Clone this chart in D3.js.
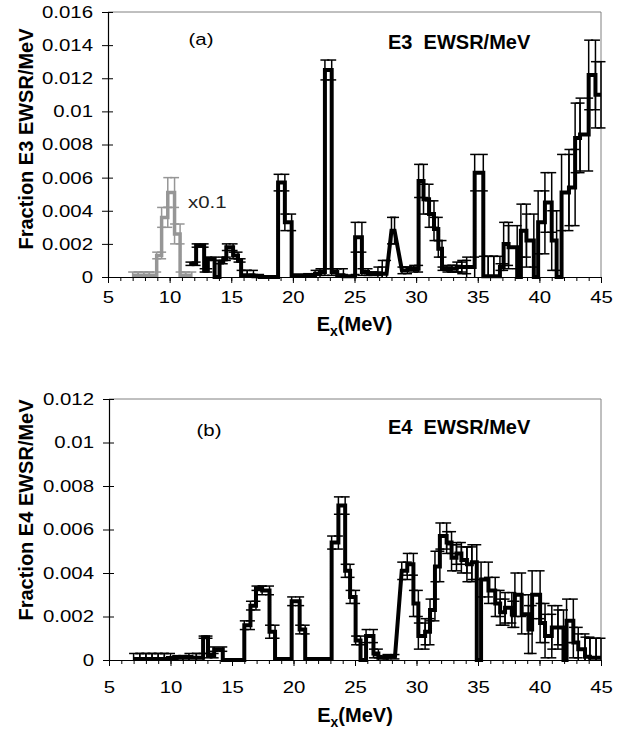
<!DOCTYPE html>
<html>
<head>
<meta charset="utf-8">
<script src="https://cdn.jsdelivr.net/npm/d3@7/dist/d3.min.js"></script>
<style>
  body { margin: 0; background: #fff; }
  svg { display: block; font-family: 'Liberation Sans', Arial, sans-serif; }
</style>
</head>
<body>
<div id="chart"></div>
<script>
// ---- data ----
const xTicks = [5, 10, 15, 20, 25, 30, 35, 40, 45];

// panel (a), E3, grey part plotted x0.1
const e3LowLo = [7.0, 7.45, 7.9, 8.35, 8.95, 9.35, 9.85, 10.4, 10.85, 11.3];
const e3LowHi = [7.45, 7.9, 8.35, 8.95, 9.35, 9.85, 10.4, 10.85, 11.3, 11.8];
const e3LowVal = [0.0001, 0.0001, 0.0001, 0.0001, 0.0013, 0.0036, 0.0051, 0.0026, 0.0001, 0.0001];
const e3LowErr = [0.0002, 0.0002, 0.0002, 0.0002, 0.0002, 0.0006, 0.0009, 0.0006, 0.0002, 0.0002];

// panel (a), E3, main part
const e3Lo = [11.65, 12.15, 12.8, 13.1, 13.65, 14.05, 14.35, 14.6, 15.15, 15.55, 15.8, 16.3, 16.8, 17.3,
  18.8, 19.35, 19.9, 21.2, 21.8, 22.2, 22.6, 23.15, 23.6, 24.1, 25.05, 25.6, 26.1, 26.5, 26.9, 27.25,
  28.0, 28.85, 29.3, 29.8, 30.2, 30.6, 31.05, 31.45, 31.8, 32.1, 32.5, 32.9, 33.3, 33.7, 34.1,
  34.75, 35.45, 35.85, 36.3, 36.8, 37.1, 37.5, 38.2, 38.5, 38.95, 39.55, 39.9, 40.45, 41.0, 41.4,
  41.8, 42.4, 42.9, 43.3, 44.0, 44.55];
const e3Hi = [12.15, 12.8, 13.1, 13.65, 14.05, 14.35, 14.6, 15.15, 15.55, 15.8, 16.3, 16.8, 17.3, 18.8,
  19.35, 19.9, 21.2, 21.8, 22.2, 22.6, 23.15, 23.6, 24.1, 25.05, 25.6, 26.1, 26.5, 26.9, 27.25, 27.6,
  28.25, 29.3, 29.8, 30.2, 30.6, 31.05, 31.45, 31.8, 32.1, 32.5, 32.9, 33.3, 33.7, 34.1, 34.75,
  35.45, 35.85, 36.3, 36.8, 37.1, 37.5, 38.2, 38.5, 38.95, 39.55, 39.9, 40.45, 41.0, 41.4, 41.8,
  42.4, 42.9, 43.3, 44.0, 44.55, 45.0];
const e3Val = [0.0008, 0.0019, 0.0004, 0.0011, 0, 0.0009, 0.0011, 0.0018, 0.0013, 0.001, 0.0001, 0.0001, 0.00005, 0,
  0.0057, 0.0033, 0.0001, 0.0001, 0.0002, 0.0003, 0.0125, 0.0003, 0.0001, 0.00005, 0.0024, 0.0003, 0.0002, 0.0002, 0.0002, 0.0002,
  0.0028, 0.0004, 0.0005, 0.0005, 0.0058, 0.0047, 0.0038, 0.0029, 0.0017, 0.0005, 0.0005, 0.0005, 0.0006, 0.0006, 0.0006,
  0.0063, 0.00005, 0.00005, 0.00005, 0.0006, 0.002, 0.0018, 0, 0.0028, 0.0022, 0, 0.0033, 0.0045, 0.0022, 0,
  0.0051, 0.0054, 0.0084, 0.0086, 0.0122, 0.011];
const e3Err = [0.0001, 0.0001, 0.0001, 0.0001, 0, 0.0001, 0.0001, 0.0002, 0.0002, 0.0001, 0.0003, 0.0003, 0.0001, 0,
  0.0005, 0.0005, 0, 0.0001, 0.0002, 0.0002, 0.0006, 0.0002, 0.0004, 0.0001, 0.0009, 0.0002, 0.0001, 0.0001, 0.0004, 0.0008,
  0.0008, 0.0002, 0.0001, 0.0002, 0.001, 0.0009, 0.0008, 0.0007, 0.0005, 0.0001, 0.0002, 0.0002, 0.0003, 0.0004, 0.0006,
  0.0011, 0.0012, 0.0012, 0.0012, 0.0002, 0.0013, 0.0013, 0, 0.0016, 0.0016, 0, 0.0019, 0.0018, 0.0018, 0,
  0.0023, 0.0023, 0.0021, 0.0022, 0.0021, 0.002];

// panel (b), E4
const e4Lo = [7.0, 7.5, 8.0, 8.5, 9.0, 9.5, 10.0, 10.5, 11.0, 11.5, 12.1, 12.65, 13.05, 13.55, 14.25,
  16.0, 16.5, 16.95, 17.45, 18.05, 18.5, 19.85, 20.5, 20.95, 23.1, 23.65, 24.2, 24.6, 25.05, 25.45,
  25.9, 26.5, 26.9, 27.6, 28.8, 29.25, 29.75, 30.15, 30.7, 31.1, 31.5, 31.9, 32.45, 32.85, 33.25,
  33.65, 34.1, 34.5, 34.9, 35.25, 35.85, 36.4, 36.8, 37.2, 37.75, 38.0, 38.55, 39.1, 39.4, 40.05,
  40.45, 41.0, 41.5, 41.95, 42.2, 42.75, 43.15, 43.7, 44.1, 44.6];
const e4Hi = [7.5, 8.0, 8.5, 9.0, 9.5, 10.0, 10.5, 11.0, 11.5, 12.1, 12.65, 13.05, 13.55, 14.25, 16.0,
  16.5, 16.95, 17.45, 18.05, 18.5, 19.85, 20.5, 20.95, 23.1, 23.65, 24.2, 24.6, 25.05, 25.45, 25.9,
  26.5, 26.9, 27.6, 28.25, 29.25, 29.75, 30.15, 30.7, 31.1, 31.5, 31.9, 32.45, 32.85, 33.25, 33.65,
  34.1, 34.5, 34.9, 35.25, 35.85, 36.4, 36.8, 37.2, 37.75, 38.0, 38.55, 39.1, 39.4, 40.05, 40.45,
  41.0, 41.5, 41.95, 42.2, 42.75, 43.15, 43.7, 44.1, 44.6, 45.0];
const e4Val = [0.00005, 0.00005, 0.00005, 0.00005, 0.00005, 0.00005, 0.00005, 0.0001, 0.0001, 0.0001, 0.0001, 0.00105, 0.0002, 0.0005, 0,
  0.0016, 0.0025, 0.0033, 0.0032, 0.0013, 0.00005, 0.0027, 0.0014, 0.00005, 0.0054, 0.0071, 0.0041, 0.0029, 0.0009, 0,
  0.0011, 0.0003, 0.0001, 0.00015, 0.0041, 0.0044, 0.0026, 0.0011, 0.0013, 0.0023, 0.0043, 0.0057, 0.0054, 0.0047, 0.0049,
  0.0046, 0.0044, 0.0045, 0, 0.0037, 0.0032, 0.0026, 0.0022, 0.0024, 0.0021, 0.003, 0.0021, 0.0014, 0.003, 0.0017,
  0.0011, 0.0015, 0.0015, 0, 0.0018, 0.0008, 0.0005, 0.00015, 0.0001, 0.0001];
const e4Err = [0.00025, 0.00025, 0.00025, 0.00025, 0.00025, 0.00025, 0.0001, 0.0001, 0.0001, 0.0002, 0.0002, 0.00005, 0.0001, 0.0001, 0,
  0.0002, 0.0002, 0.0001, 0.0002, 0.0003, 0, 0.0002, 0.0002, 0, 0.0003, 0.0004, 0.0003, 0.0003, 0.0002, 0,
  0.0003, 0.0002, 0.0001, 0.0001, 0.0004, 0.0005, 0.0006, 0.0006, 0.0006, 0.0005, 0.0007, 0.0006, 0.0005, 0.0006, 0.0005,
  0.0006, 0.0008, 0.0008, 0, 0.0008, 0.0006, 0.0006, 0.0006, 0.0007, 0.0006, 0.001, 0.0009, 0.0011, 0.0011, 0.0009,
  0.001, 0.001, 0.0008, 0, 0.001, 0.0007, 0.0007, 0.0009, 0.0009, 0.0009];

const e3Ticks = [0, 0.002, 0.004, 0.006, 0.008, 0.01, 0.012, 0.014, 0.016];
const e3TickLabels = ['0', '0.002', '0.004', '0.006', '0.008', '0.01', '0.012', '0.014', '0.016'];
const e4Ticks = [0, 0.002, 0.004, 0.006, 0.008, 0.01, 0.012];
const e4TickLabels = ['0', '0.002', '0.004', '0.006', '0.008', '0.01', '0.012'];

// ---- drawing ----
const width = 628;
const height = 741;
const font = "'Liberation Sans', Arial, sans-serif";
const stretch = 'scale(1.2,1)';

const svg = d3.select('#chart')
  .append('svg')
  .attr('width', width)
  .attr('height', height);

const toBins = (lo, hi, val, err) => lo.map((l, i) => ({ lo: l, hi: hi[i], v: val[i], e: err[i] }));

const drawPanel = (p) => {
  const g = svg.append('g');
  const x = d3.scaleLinear().domain([5, 45]).range([p.left, p.right]);
  const y = d3.scaleLinear().domain([0, p.yMax]).range([p.bottom, p.top]);

  // plot area border (top + right)
  g.append('path')
    .attr('d', `M${p.left},${p.top}H${p.right}V${p.bottom}`)
    .attr('fill', 'none')
    .attr('stroke', '#808080')
    .attr('stroke-width', 1);

  // x axis: minor ticks every MeV, then major ticks with labels
  g.append('g')
    .attr('transform', `translate(0, ${p.bottom})`)
    .call(d3.axisBottom(x).tickValues(d3.range(5, 46, 1)).tickSize(4).tickSizeOuter(0).tickFormat(''))
    .call((a) => a.select('.domain').remove())
    .selectAll('line').attr('stroke', '#000');

  const xAxis = g.append('g')
    .attr('transform', `translate(0, ${p.bottom})`)
    .call(d3.axisBottom(x).tickValues(xTicks).tickSize(6).tickSizeOuter(0).tickFormat(d3.format('d')));
  xAxis.select('.domain').attr('stroke', '#000').attr('stroke-width', 1.2);
  xAxis.selectAll('text')
    .attr('font-size', 17)
    .attr('font-family', font)
    .attr('fill', '#000')
    .attr('dy', 0)
    .attr('y', p.xLabelOffset)
    .attr('transform', stretch);

  // y axis, ticks cross the axis line
  const yAxis = g.append('g')
    .attr('transform', `translate(${p.left}, 0)`)
    .call(d3.axisLeft(y).tickValues(p.yTicks).tickSize(6).tickSizeOuter(0)
      .tickFormat((d, i) => p.yTickLabels[i]));
  yAxis.select('.domain').attr('stroke', '#000').attr('stroke-width', 1.2);
  yAxis.selectAll('line').attr('x1', 5).attr('stroke', '#000');
  yAxis.selectAll('text')
    .attr('font-size', 17)
    .attr('font-family', font)
    .attr('fill', '#000')
    .attr('x', -12.5)
    .attr('transform', stretch);

  const line = d3.line().x((d) => x(d[0])).y((d) => y(d[1]));

  p.series.forEach((s) => {
    const bins = toBins(s.lo, s.hi, s.val, s.err);
    const pts = bins.flatMap((b) => [[b.lo, b.v], [b.hi, b.v]]);

    g.append('path')
      .attr('d', line(pts))
      .attr('fill', 'none')
      .attr('stroke', s.color)
      .attr('stroke-width', s.width);

    // error bars on both points of every bin
    const bars = bins.filter((b) => b.e > 0).flatMap((b) => [
      { at: b.lo, v: b.v, e: b.e }, { at: b.hi, v: b.v, e: b.e }]);
    const eg = g.append('g').attr('stroke', s.color).attr('stroke-width', 1.5).attr('fill', 'none');
    const cap = 4.5;
    bars.forEach((b) => {
      const top = y(b.v + b.e);
      const low = Math.max(0, b.v - b.e);
      const bot = y(low);
      const cx = x(b.at);
      eg.append('line').attr('x1', cx).attr('x2', cx).attr('y1', top).attr('y2', bot);
      eg.append('line').attr('x1', cx - cap).attr('x2', cx + cap).attr('y1', top).attr('y2', top);
      if (low > 0) {
        eg.append('line').attr('x1', cx - cap).attr('x2', cx + cap).attr('y1', bot).attr('y2', bot);
      }
    });
  });

  // panel letter
  g.append('text')
    .attr('transform', `translate(${p.tag.x}, ${p.tag.y}) ${stretch}`)
    .attr('text-anchor', 'middle')
    .attr('font-size', 17)
    .attr('font-family', font)
    .text(p.tag.text);

  // title inside the plot
  g.append('text')
    .attr('x', p.title.x)
    .attr('y', p.title.y)
    .attr('font-size', 20)
    .attr('font-weight', 'bold')
    .attr('font-family', font)
    .style('white-space', 'pre')
    .text(p.title.text);

  // y axis title
  g.append('text')
    .attr('transform', `translate(${p.yTitle.x}, ${p.yTitle.y}) rotate(-90)`)
    .attr('text-anchor', 'middle')
    .attr('font-size', 20)
    .attr('font-weight', 'bold')
    .attr('font-family', font)
    .text(p.yTitle.text);

  // x axis title, E with subscript x
  const xt = g.append('text')
    .attr('x', (p.left + p.right) / 2)
    .attr('y', p.xTitleY)
    .attr('text-anchor', 'middle')
    .attr('font-size', 20)
    .attr('font-weight', 'bold')
    .attr('font-family', font);
  xt.append('tspan').text('E');
  xt.append('tspan').attr('font-size', 14).attr('dy', 5).text('x');
  xt.append('tspan').attr('dy', -5).text('(MeV)');

  return { g, x, y };
};

const a = drawPanel({
  left: 108, right: 601, top: 12, bottom: 277, yMax: 0.016,
  yTicks: e3Ticks, yTickLabels: e3TickLabels,
  xLabelOffset: 26, xTitleY: 331,
  series: [
    { lo: e3LowLo, hi: e3LowHi, val: e3LowVal, err: e3LowErr, color: '#969696', width: 3.5 },
    { lo: e3Lo, hi: e3Hi, val: e3Val, err: e3Err, color: '#000', width: 4 },
  ],
  tag: { x: 201, y: 45, text: '(a)' },
  title: { x: 388, y: 49, text: 'E3  EWSR/MeV' },
  yTitle: { x: 33, y: 139, text: 'Fraction E3 EWSR/MeV' },
});

a.g.append('text')
  .attr('transform', `translate(188, 208) ${stretch}`)
  .attr('font-size', 17)
  .attr('font-family', font)
  .attr('fill', '#222')
  .text('x0.1');

drawPanel({
  left: 109, right: 601, top: 399, bottom: 660, yMax: 0.012,
  yTicks: e4Ticks, yTickLabels: e4TickLabels,
  xLabelOffset: 33, xTitleY: 722,
  series: [
    { lo: e4Lo, hi: e4Hi, val: e4Val, err: e4Err, color: '#000', width: 4 },
  ],
  tag: { x: 209, y: 436, text: '(b)' },
  title: { x: 388, y: 434, text: 'E4  EWSR/MeV' },
  yTitle: { x: 33, y: 510, text: 'Fraction E4 EWSR/MeV' },
});
</script>
</body>
</html>
